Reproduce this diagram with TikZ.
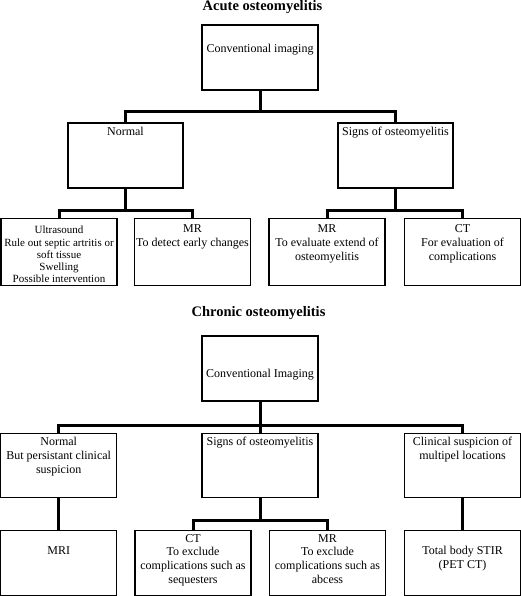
\documentclass[tikz,border=0pt]{standalone}
\usepackage{fontspec}
\setmainfont{Liberation Serif}
\newcommand{\bx}[4][2]{\parbox[c][#3pt][t]{#2pt}{\centering\vspace*{#1pt}\strut #4}}
\tikzset{
  box/.style={draw, line width=1.3pt, inner sep=0pt, outer sep=0pt,
    font=\fontsize{12}{13.8}\selectfont},
  smallbox/.style={box, font=\fontsize{11}{12.2}\selectfont},
  conn/.style={line width=3pt, line join=miter},
  ttl/.style={font=\fontsize{14.5}{16}\selectfont\bfseries, inner sep=0pt}
}
\begin{document}
\begin{tikzpicture}[x=1pt,y=-1pt]
\useasboundingbox (0,0) rectangle (521,596);
% ---------- Acute ----------
\node[ttl] (t1) at (262.5,7) {Acute osteomyelitis};
\node[box] (conv) at (260,57.5) {\bx[4]{116}{65}{\mbox{}\\Conventional imaging}};
\node[box] (norm) at (125.5,155.5) {\bx[3]{115}{65}{Normal}};
\node[box] (sign) at (395.5,155.5) {\bx[3]{115}{65}{Signs of osteomyelitis}};
\node[smallbox] (us) at (59,251.8) {\bx[7]{116}{67}{Ultrasound\\Rule out septic artritis or\\soft tissue\\Swelling\\Possible intervention}};
\node[box] (mra) at (192.5,251.8) {\bx[5]{116}{67}{MR\\To detect early changes}};
\node[box] (mrb) at (327,251.8) {\bx[5]{116}{67}{MR\\To evaluate extend of\\osteomyelitis}};
\node[box] (cta) at (462.5,251.8) {\bx[5]{116}{67}{CT\\For evaluation of\\complications}};
\coordinate (h1) at (260,112);
\coordinate (h2) at (125.5,210);
\coordinate (h3) at (395.5,210);
\draw[conn] (conv.south) -- (h1);
\draw[conn] (norm.north) |- (h1) -| (sign.north);
\draw[conn] (norm.south) -- (h2);
\draw[conn] (us.north) |- (h2) -| (mra.north);
\draw[conn] (sign.south) -- (h3);
\draw[conn] (mrb.north) |- (h3) -| (cta.north);
% ---------- Chronic ----------
\node[ttl] (t2) at (258.5,313) {Chronic osteomyelitis};
\node[box] (conv2) at (260,368.5) {\bx[4]{116}{65}{\mbox{}\\\mbox{}\\Conventional Imaging}};
\node[box] (norm2) at (58.7,465.8) {\bx[2]{116}{64}{Normal\\But persistant clinical\\suspicion}};
\node[box] (sign2) at (260,465.8) {\bx[2]{116}{64}{Signs of osteomyelitis}};
\node[box] (clin) at (462.5,465.8) {\bx[2]{116}{64}{Clinical suspicion of\\multipel locations}};
\node[box] (mri) at (58.7,563) {\bx[1]{116}{65}{\mbox{}\\MRI}};
\node[box] (ctb) at (193,563) {\bx[2]{116}{65}{CT\\To exclude\\complications such as\\sequesters}};
\node[box] (mrc) at (327.5,563) {\bx[2]{116}{65}{MR\\To exclude\\complications such as\\abcess}};
\node[box] (tot) at (462.5,563) {\bx[1]{116}{65}{\mbox{}\\Total body STIR\\(PET CT)}};
\coordinate (h4) at (260,425);
\coordinate (h5) at (260,520);
\draw[conn] (conv2.south) -- (sign2.north);
\draw[conn] (norm2.north) |- (h4) -| (clin.north);
\draw[conn] (norm2.south) -- (mri.north);
\draw[conn] (clin.south) -- (tot.north);
\draw[conn] (sign2.south) -- (h5);
\draw[conn] (ctb.north) |- (h5) -| (mrc.north);
\end{tikzpicture}
\end{document}
